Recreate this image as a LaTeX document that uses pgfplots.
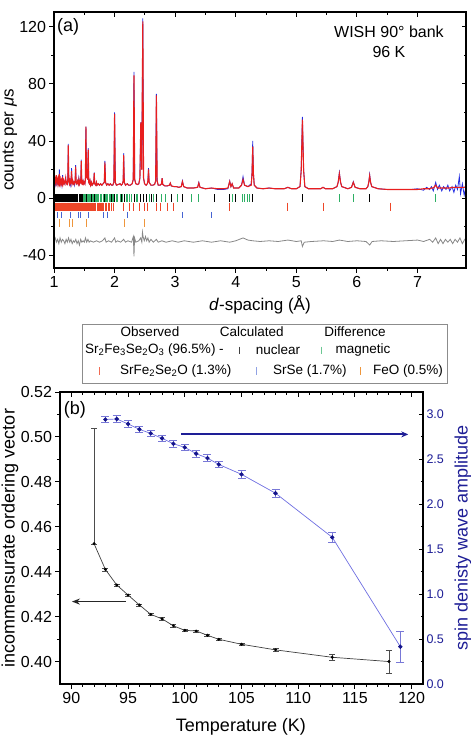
\documentclass[border=0pt]{standalone}
\usepackage{fontspec}
\setmainfont{Liberation Sans}
\usepackage{pgfplots}
\pgfplotsset{compat=1.18}
\usepackage{pgfplotstable}
\usetikzlibrary{arrows.meta}

\definecolor{obsblue}{RGB}{35,45,225}
\definecolor{calcred}{RGB}{232,30,30}
\definecolor{diffgray}{RGB}{135,135,135}
\definecolor{maggreen}{RGB}{45,175,100}
\definecolor{srfered}{RGB}{238,70,40}
\definecolor{srseblue}{RGB}{70,100,210}
\definecolor{feoorange}{RGB}{238,150,60}
\definecolor{sdwline}{RGB}{110,110,225}
\definecolor{sdwmark}{RGB}{20,20,140}
\definecolor{sdwerr}{RGB}{120,120,215}
\definecolor{axisblue}{RGB}{30,30,150}

\newcommand{\fs}[1]{\fontsize{#1bp}{#1bp}\selectfont}

% WISH 90 degree bank profile: d-spacing, observed, calculated
\pgfplotstableread{
d obs calc
1.000 12 13
1.008 10 11
1.014 13 15
1.020 9 10
1.030 11 12
1.038 14 16
1.046 10 11
1.055 12 13
1.064 10 10
1.072 12 13
1.080 10 11
1.088 20 17
1.096 11 11
1.104 12 13
1.112 10 10
1.120 12 12
1.130 9 10
1.142 16 15
1.150 10 10
1.160 11 12
1.170 10 10
1.180 11 11
1.192 15 14
1.200 10 10
1.210 11 11
1.220 10 10
1.228 13 13
1.236 38 37
1.244 12 12
1.254 10 10
1.262 12 12
1.270 9 10
1.280 11 11
1.290 21 19
1.298 10 10
1.310 12 12
1.320 10 10
1.330 11 11
1.340 9 10
1.349 12 12
1.357 23 22
1.365 11 11
1.375 10 10
1.390 12 12
1.400 10 10
1.410 14 13
1.420 10 10
1.432 12 12
1.442 11 11
1.450 27 26
1.458 11 11
1.470 10 10
1.480 12 12
1.490 10 10
1.500 11 11
1.510 10 10
1.518 13 13
1.527 50 50
1.536 14 14
1.545 19 18
1.554 13 13
1.565 35 34
1.574 11 11
1.585 10 10
1.595 12 12
1.605 9 9
1.620 11 11
1.630 9 9
1.645 10 10
1.656 11 11
1.664 18 17.5
1.672 10 10
1.690 9 9
1.700 11 11
1.710 9 9
1.730 10 10
1.750 9 9
1.770 10 10
1.790 9 9
1.810 10 10
1.830 11 11
1.840 26 25
1.850 11 11
1.870 9 9
1.890 10 10
1.910 9 9
1.930 10 10
1.950 9 9
1.970 9 9
1.988 11 11
2.000 60 59
2.012 11 11
2.030 9 9
2.060 9.5 9.5
2.090 10 10
2.110 9 9
2.130 10 10
2.142 12 12
2.150 31.5 30
2.160 11 11
2.180 9 9
2.210 10 10
2.230 9 9
2.260 9 9
2.290 10 10
2.308 13 13
2.320 88.5 86
2.332 13 13
2.350 10 10
2.380 9.5 9.5
2.400 10 10
2.418 14 14
2.433 53 53
2.448 20 20
2.466 126 124
2.478 14 14
2.495 10 10
2.520 9 9
2.540 10 10
2.550 12 12
2.560 21 20
2.570 11 11
2.600 9 9
2.630 9 9
2.660 9.5 9.5
2.678 12 12
2.690 73 72
2.702 12 12
2.720 9 9
2.750 9 9
2.775 10 10
2.785 14 14
2.795 9.5 9.5
2.830 8.5 8.5
2.870 8.5 8.5
2.905 9 9
2.920 10.5 10.5
2.935 8.5 8.5
2.980 8 8
3.020 8 8
3.060 7.5 7.5
3.100 8 8
3.120 12 11.5
3.140 8 8
3.200 7 7
3.260 7 7
3.300 7 7
3.370 7.5 7.5
3.390 11 10.5
3.410 7.5 7.5
3.500 6.5 6.5
3.600 7 7
3.700 6 6.5
3.800 6 6.5
3.870 6.5 7
3.900 12 11.5
3.920 8 8
3.940 10 10
3.965 7 7
4.050 7 7
4.095 9 9
4.120 15 13
4.145 9 9
4.200 8 8
4.255 10 9
4.268 18 16
4.280 40 36
4.292 18 16
4.305 9 9
4.350 7 7
4.450 6.5 6.5
4.550 7 7
4.650 6.5 6.5
4.800 6.5 6.5
4.860 7.5 7.5
4.920 6.5 6.5
5.000 6.5 6.5
5.060 8 8
5.080 20 19
5.100 57 55
5.120 20 19
5.140 8 8
5.200 6.5 6.5
5.300 6.5 6.5
5.400 6.5 6.5
5.440 7.5 7.5
5.480 6.5 6.5
5.600 6.5 6.5
5.670 8 8
5.690 11 11
5.710 18 17
5.730 11 11
5.750 8 8
5.850 6.5 6.5
5.910 7.5 7.5
5.940 11.5 11
5.970 7.5 7.5
6.050 6.5 6.5
6.150 6.5 6.5
6.180 8 8
6.195 11 11
6.210 16.5 15.5
6.225 11 11
6.245 8 8
6.350 6.5 6.5
6.500 6 6
6.700 6 6
6.900 6 6
7.000 6.5 6
7.100 5.5 6.5
7.150 7.5 6.5
7.200 6 6.5
7.230 8 7
7.260 5 7
7.300 11 9
7.330 6 7
7.360 9 7
7.400 5 7
7.430 8 7
7.470 6 7
7.500 9 7
7.530 5 7
7.570 8 7.5
7.600 4 7.5
7.630 9 7.5
7.660 6 7.5
7.690 15 7.5
7.710 3 7.5
7.740 10 7.5
7.770 2 7.5
7.800 8 8
}\profile

% observed minus calculated, shifted by -30
\pgfplotstableread{
d diff
1.00 -30
1.02 -28
1.04 -31
1.06 -29
1.08 -32
1.10 -28
1.12 -31
1.14 -29
1.16 -30
1.18 -32
1.20 -29
1.22 -31
1.24 -28
1.26 -31
1.28 -29
1.30 -32
1.32 -30
1.34 -31
1.36 -29
1.38 -32
1.40 -30
1.42 -33
1.44 -29
1.46 -31
1.48 -30
1.50 -31
1.52 -28
1.54 -31
1.56 -29
1.58 -31
1.60 -30
1.65 -31
1.70 -30
1.75 -31
1.80 -30
1.84 -28
1.86 -31
1.90 -30
1.95 -31
2.00 -28
2.02 -31
2.05 -30
2.10 -31
2.15 -29
2.18 -31
2.22 -30
2.28 -31
2.31 -27
2.32 -41
2.33 -28
2.35 -31
2.40 -30
2.43 -28
2.45 -31
2.46 -24
2.47 -27
2.49 -30
2.51 -27
2.53 -30
2.55 -28
2.57 -31
2.60 -29
2.64 -31
2.69 -29
2.72 -31
2.78 -30
2.85 -31
2.95 -30
3.05 -31
3.15 -30
3.30 -31
3.45 -30
3.60 -31
3.75 -30
3.90 -31
4.00 -30
4.12 -28
4.20 -29.5
4.28 -30
4.40 -30.5
4.55 -30
4.70 -30.5
4.86 -29.5
5.00 -30.5
5.08 -30
5.10 -34
5.13 -31
5.25 -30.5
5.45 -30
5.60 -30.5
5.71 -29.5
5.85 -30.5
6.00 -30
6.15 -30.5
6.21 -33
6.25 -30.5
6.40 -30
6.60 -30.5
6.80 -30
7.00 -29.5
7.10 -30.5
7.20 -29
7.25 -31
7.30 -28
7.34 -32
7.38 -29
7.42 -32
7.46 -29
7.50 -31
7.54 -29
7.58 -32
7.62 -29
7.66 -31
7.70 -28
7.74 -32
7.78 -29
7.80 -30
}\difference

\pgfplotsset{
  panel/.style={
    scale only axis, anchor=south west,
    tick label style={font=\fs{16}},
    label style={font=\fs{17}},
    /pgf/number format/assume math mode=true,
    axis line style={line width=1.1bp},
    every tick/.style={line width=1bp, black},
    major tick length=4.5bp, minor tick length=2.5bp,
    tick align=outside,
    xtick pos=left, ytick pos=left,
  },
  reflections/.style={only marks, mark=|, mark options={line width=1bp, #1}},
}

\begin{document}
\begin{tikzpicture}

% ---------------- (a) diffraction pattern ----------------
\begin{axis}[panel, at={(54bp,-268bp)}, width=412bp, height=256bp,
  xmin=1, xmax=7.8, ymin=-49.1, ymax=130.5,
  xtick={1,2,3,4,5,6,7}, minor x tick num=1,
  ytick={-40,0,40,80,120}, minor y tick num=1,
  xlabel={\textit{d}-spacing (Å)},
  ylabel={counts per \textit{μ}s},
  xlabel style={at={(axis description cs:0.5,-0.145)}, anchor=center},
  ylabel style={at={(axis description cs:-0.107,0.5)}, anchor=center},
]
\addplot[obsblue, line width=0.8bp] table[x=d, y=obs] {\profile};
\addplot[calcred, line width=1.1bp] table[x=d, y=calc] {\profile};
\addplot[diffgray, line width=0.8bp] table[x=d, y=diff] {\difference};

% Sr2Fe3Se2O3 nuclear reflections
\addplot[reflections=black, mark size=3.85bp] coordinates {
(1.002,0.1)(1.012,0.1)(1.022,0.1)(1.031,0.1)(1.040,0.1)(1.050,0.1)(1.058,0.1)(1.067,0.1)
(1.075,0.1)(1.084,0.1)(1.093,0.1)(1.101,0.1)(1.110,0.1)(1.119,0.1)(1.128,0.1)(1.137,0.1)
(1.146,0.1)(1.155,0.1)(1.164,0.1)(1.173,0.1)(1.182,0.1)(1.191,0.1)(1.200,0.1)(1.210,0.1)
(1.220,0.1)(1.230,0.1)(1.240,0.1)(1.250,0.1)(1.262,0.1)(1.274,0.1)(1.286,0.1)(1.312,0.1)
(1.324,0.1)(1.336,0.1)(1.348,0.1)(1.360,0.1)(1.372,0.1)(1.384,0.1)(1.415,0.1)(1.428,0.1)
(1.440,0.1)(1.452,0.1)(1.465,0.1)(1.500,0.1)(1.530,0.1)(1.620,0.1)(1.670,0.1)(1.740,0.1)
(1.810,0.1)(1.840,0.1)(1.950,0.1)(2.000,0.1)(2.110,0.1)(2.170,0.1)(2.330,0.1)(2.420,0.1)
(2.470,0.1)(2.520,0.1)(2.610,0.1)(2.690,0.1)(2.940,0.1)(3.120,0.1)(3.650,0.1)(3.900,0.1)
(4.000,0.1)(4.280,0.1)(5.100,0.1)(6.210,0.1)
};
% Sr2Fe3Se2O3 magnetic reflections
\addplot[reflections=maggreen, mark size=3.85bp] coordinates {
(1.490,0.1)(1.505,0.1)(1.515,0.1)(1.545,0.1)(1.555,0.1)(1.570,0.1)(1.580,0.1)(1.595,0.1)
(1.610,0.1)(1.635,0.1)(1.650,0.1)(1.685,0.1)(1.700,0.1)(1.715,0.1)(1.730,0.1)(1.760,0.1)
(1.775,0.1)(1.790,0.1)(1.825,0.1)(1.855,0.1)(1.870,0.1)(1.885,0.1)(1.910,0.1)(1.925,0.1)
(1.940,0.1)(1.965,0.1)(1.980,0.1)(2.030,0.1)(2.050,0.1)(2.090,0.1)(2.130,0.1)(2.195,0.1)
(2.220,0.1)(2.250,0.1)(2.280,0.1)(2.360,0.1)(2.385,0.1)(2.570,0.1)(2.650,0.1)(2.770,0.1)
(2.840,0.1)(3.040,0.1)(3.270,0.1)(3.390,0.1)(3.950,0.1)(4.110,0.1)(4.150,0.1)(4.190,0.1)
(4.230,0.1)(5.710,0.1)(5.940,0.1)(7.300,0.1)
};
% SrFe2Se2O
\addplot[reflections=srfered, mark size=4bp] coordinates {
(1.000,-6.1)(1.009,-6.1)(1.018,-6.1)(1.027,-6.1)(1.036,-6.1)(1.045,-6.1)(1.054,-6.1)(1.063,-6.1)
(1.072,-6.1)(1.081,-6.1)(1.090,-6.1)(1.099,-6.1)(1.108,-6.1)(1.117,-6.1)(1.126,-6.1)(1.135,-6.1)
(1.144,-6.1)(1.153,-6.1)(1.162,-6.1)(1.171,-6.1)(1.180,-6.1)(1.189,-6.1)(1.198,-6.1)(1.207,-6.1)
(1.216,-6.1)(1.225,-6.1)(1.234,-6.1)(1.243,-6.1)(1.252,-6.1)(1.261,-6.1)(1.270,-6.1)(1.279,-6.1)
(1.288,-6.1)(1.297,-6.1)(1.306,-6.1)(1.315,-6.1)(1.324,-6.1)(1.333,-6.1)(1.342,-6.1)(1.351,-6.1)
(1.360,-6.1)(1.369,-6.1)(1.378,-6.1)(1.387,-6.1)(1.396,-6.1)(1.405,-6.1)(1.414,-6.1)(1.423,-6.1)
(1.432,-6.1)(1.441,-6.1)(1.450,-6.1)(1.459,-6.1)(1.468,-6.1)(1.477,-6.1)(1.486,-6.1)
(1.505,-6.1)(1.520,-6.1)(1.535,-6.1)(1.550,-6.1)(1.560,-6.1)(1.575,-6.1)(1.590,-6.1)(1.610,-6.1)
(1.625,-6.1)(1.640,-6.1)(1.655,-6.1)(1.670,-6.1)(1.690,-6.1)(1.710,-6.1)(1.730,-6.1)(1.745,-6.1)
(1.760,-6.1)(1.780,-6.1)(1.800,-6.1)(1.820,-6.1)(1.850,-6.1)(1.870,-6.1)(1.900,-6.1)(1.920,-6.1)
(1.950,-6.1)(1.990,-6.1)(2.153,-6.1)(2.250,-6.1)(2.306,-6.1)(2.417,-6.1)(2.490,-6.1)(2.550,-6.1)
(2.690,-6.1)(2.750,-6.1)(2.880,-6.1)(2.970,-6.1)(3.900,-6.1)(4.860,-6.1)(5.440,-6.1)(6.560,-6.1)
};
% SrSe
\addplot[reflections=srseblue, mark size=3.3bp] coordinates {
(1.050,-12)(1.130,-12)(1.270,-12)(1.400,-12)(1.430,-12)(1.570,-12)(1.810,-12)(1.890,-12)
(2.220,-12)(3.120,-12)(3.600,-12)
};
% FeO
\addplot[reflections=feoorange, mark size=3.7bp] coordinates {
(1.083,-17.6)(1.250,-17.6)(1.306,-17.6)(1.531,-17.6)(2.165,-17.6)(2.490,-17.6)
};

\node[font=\fs{18}] at (axis description cs:0.034,0.941) {(a)};
\node[font=\fontsize{16bp}{20bp}\selectfont, align=center] at (axis description cs:0.813,0.883) {WISH 90° bank\\96 K};
\end{axis}

% inward ticks on the top and right edges of (a)
\begin{axis}[panel, at={(54bp,-268bp)}, width=412bp, height=256bp,
  xmin=1, xmax=7.8, ymin=-49.1, ymax=130.5,
  xtick={1,2,3,4,5,6,7}, minor x tick num=1,
  ytick={-40,0,40,80,120}, minor y tick num=1,
  tick align=inside, xtick pos=right, ytick pos=right,
  xticklabels={}, yticklabels={},
]
\end{axis}

% ---------------- legend ----------------
\begin{scope}[font=\fs{13.5}]
\draw[black!45, line width=1bp] (82bp,-324bp) rectangle (447bp,-383bp);
\node at (150bp,-332bp) {Observed};
\node at (251.7bp,-332bp) {Calculated};
\node at (355bp,-332bp) {Difference};
\node[anchor=west, inner sep=0pt] at (85bp,-350bp) {Sr\textsubscript{2}Fe\textsubscript{3}Se\textsubscript{2}O\textsubscript{3} (96.5\%) -};
\draw[black!75, line width=1bp] (239.3bp,-346.5bp) -- (239.3bp,-353.5bp);
\node at (278bp,-350bp) {nuclear};
\draw[maggreen!70, line width=1bp] (321.7bp,-346.5bp) -- (321.7bp,-353.5bp);
\node at (363bp,-350bp) {magnetic};
\draw[srfered!80, line width=1bp] (99.3bp,-367bp) -- (99.3bp,-374.5bp);
\node[anchor=west, inner sep=0pt] at (120bp,-370.7bp) {SrFe\textsubscript{2}Se\textsubscript{2}O (1.3\%)};
\draw[srseblue!60, line width=1bp] (256.7bp,-367bp) -- (256.7bp,-374.5bp);
\node[anchor=west, inner sep=0pt] at (273bp,-370.7bp) {SrSe (1.7\%)};
\draw[feoorange, line width=1bp] (360bp,-367bp) -- (360bp,-374.5bp);
\node[anchor=west, inner sep=0pt] at (373bp,-370.7bp) {FeO (0.5\%)};
\end{scope}

% ---------------- (b) temperature dependence ----------------
\begin{axis}[panel, at={(60bp,-684bp)}, width=363bp, height=292bp,
  xmin=89, xmax=121, ymin=0.39, ymax=0.52,
  xtick={90,95,100,105,110,115,120}, minor x tick num=4,
  ytick={0.40,0.42,0.44,0.46,0.48,0.50,0.52}, minor y tick num=1,
  yticklabel style={/pgf/number format/.cd, fixed, fixed zerofill, precision=2},
  label style={font=\fs{18}},
  xlabel={Temperature (K)},
  ylabel={incommensurate ordering vector},
  xlabel style={at={(axis description cs:0.4986,-0.146)}, anchor=center},
  ylabel style={at={(axis description cs:-0.138,0.5)}, anchor=center},
]
\addplot[black!75, line width=0.7bp, mark=*, mark size=1.1bp, mark options={black, solid},
  error bars/.cd, y dir=both, y explicit,
  error bar style={black!70, line width=0.6bp},
  error mark options={rotate=90, black!70, mark size=3bp, line width=0.6bp}]
coordinates {
(92,0.4525) += (0,0.0515) -= (0,0.0005)
(93,0.4410) +- (0,0.0007)
(94,0.4341) +- (0,0.0005)
(95,0.4296) +- (0,0.0005)
(96,0.4252) +- (0,0.0005)
(97,0.4210) +- (0,0.0005)
(98,0.4190) +- (0,0.0005)
(99,0.4159) +- (0,0.0005)
(100,0.4139) +- (0,0.0005)
(101,0.4136) +- (0,0.0005)
(102,0.4117) +- (0,0.0005)
(103,0.4099) +- (0,0.0005)
(105,0.4077) +- (0,0.0005)
(108,0.4052) +- (0,0.0005)
(113,0.4019) +- (0,0.0012)
(118,0.4000) +- (0,0.0052)
};
\draw[-{Stealth[length=8bp,width=6bp]}, line width=1.6bp, black!85]
  (axis cs:94.8,0.4267) -- (axis cs:90.05,0.4267);
\node[font=\fs{18}] at (axis description cs:0.041,0.938) {(b)};
\end{axis}

\begin{axis}[panel, at={(60bp,-684bp)}, width=363bp, height=292bp,
  xmin=89, xmax=121, ymin=0, ymax=3.245,
  xtick={90,95,100,105,110,115,120}, minor x tick num=4,
  ytick={0,0.5,1.0,1.5,2.0,2.5,3.0}, minor y tick num=1,
  tick align=inside, xtick pos=right, ytick pos=right, yticklabel pos=right,
  xticklabels={},
  yticklabel style={font=\fs{12.5}, text=axisblue, /pgf/number format/.cd, fixed, fixed zerofill, precision=1},
  label style={font=\fs{18}},
  ylabel={spin denisty wave amplitude},
  ylabel style={at={(axis description cs:1.110,0.5)}, anchor=center, text=axisblue},
]
\addplot[sdwline, line width=0.7bp, mark=*, mark size=1.8bp, mark options={sdwmark, solid},
  error bars/.cd, y dir=both, y explicit,
  error bar style={sdwerr, line width=0.7bp},
  error mark options={rotate=90, sdwerr, mark size=4bp, line width=0.7bp}]
coordinates {
(93,2.940) +- (0,0.037)
(94,2.945) +- (0,0.037)
(95,2.890) +- (0,0.037)
(96,2.830) +- (0,0.037)
(97,2.785) +- (0,0.037)
(98,2.730) +- (0,0.037)
(99,2.670) +- (0,0.037)
(100,2.630) +- (0,0.037)
(101,2.560) +- (0,0.037)
(102,2.510) +- (0,0.037)
(103,2.440) +- (0,0.037)
(105,2.330) +- (0,0.048)
(108,2.120) +- (0,0.048)
(113,1.630) +- (0,0.058)
(119,0.415) +- (0,0.175)
};
\draw[-{Stealth[length=7bp,width=6bp]}, line width=1.8bp, axisblue]
  (axis cs:99.7,2.774) -- (axis cs:119.7,2.774);
\end{axis}

% page area
\pgfresetboundingbox
\path[use as bounding box] (0bp,0bp) rectangle (471bp,-741bp);
\end{tikzpicture}
\end{document}
